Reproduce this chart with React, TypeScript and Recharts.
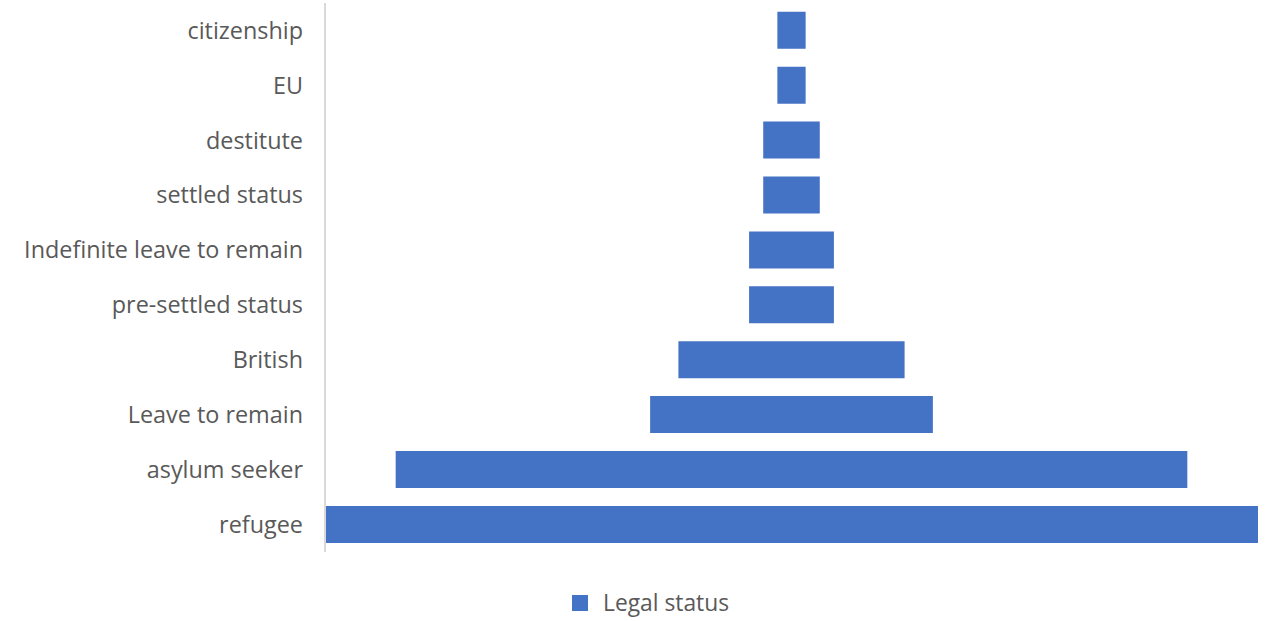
import { Bar, BarChart, Legend, XAxis, YAxis } from "recharts";

// legal status counts, top row first
const statuses = [
  "citizenship",
  "EU",
  "destitute",
  "settled status",
  "Indefinite leave to remain",
  "pre-settled status",
  "British",
  "Leave to remain",
  "asylum seeker",
  "refugee",
];
const counts = [1, 1, 2, 2, 3, 3, 8, 10, 28, 33];

const maxCount = Math.max(...counts);

// funnel: an invisible spacer bar centres each visible bar
const rows = statuses.map((name, i) => ({
  name,
  spacer: (maxCount - counts[i]) / 2,
  value: counts[i],
}));

const FONT = '"Open Sans", sans-serif';
const BLUE = "#4472c4";
const GREY = "#595959";

function LegendBox() {
  return (
    <div
      style={{
        display: "flex",
        alignItems: "center",
        fontFamily: FONT,
        fontSize: 22.8,
        color: GREY,
        lineHeight: "26px",
      }}
    >
      <span
        style={{
          width: 16,
          height: 16,
          background: BLUE,
          display: "inline-block",
          marginRight: 15,
        }}
      />
      Legal status
    </div>
  );
}

export default function App() {
  return (
    <>
      <style>{"body{margin:0;background:#fff}"}</style>
      <BarChart
        width={1274}
        height={621}
        data={rows}
        layout="vertical"
        margin={{ top: 3, right: 16, bottom: 43, left: 0 }}
        barCategoryGap="16%"
      >
        <XAxis type="number" hide domain={[0, maxCount]} />
        <YAxis
          type="category"
          dataKey="name"
          width={325}
          axisLine={{ stroke: "#d9d9d9", strokeWidth: 2 }}
          tickLine={false}
          tickSize={0}
          tickMargin={22}
          tick={{ fill: GREY, fontSize: 23.4, fontFamily: FONT }}
          interval={0}
        />
        <Legend
          content={<LegendBox />}
          wrapperStyle={{ left: 572, top: 590, width: "auto" }}
        />
        <Bar
          dataKey="spacer"
          stackId="f"
          fill="transparent"
          legendType="none"
          isAnimationActive={false}
        />
        <Bar
          dataKey="value"
          name="Legal status"
          stackId="f"
          fill={BLUE}
          isAnimationActive={false}
        />
      </BarChart>
    </>
  );
}
